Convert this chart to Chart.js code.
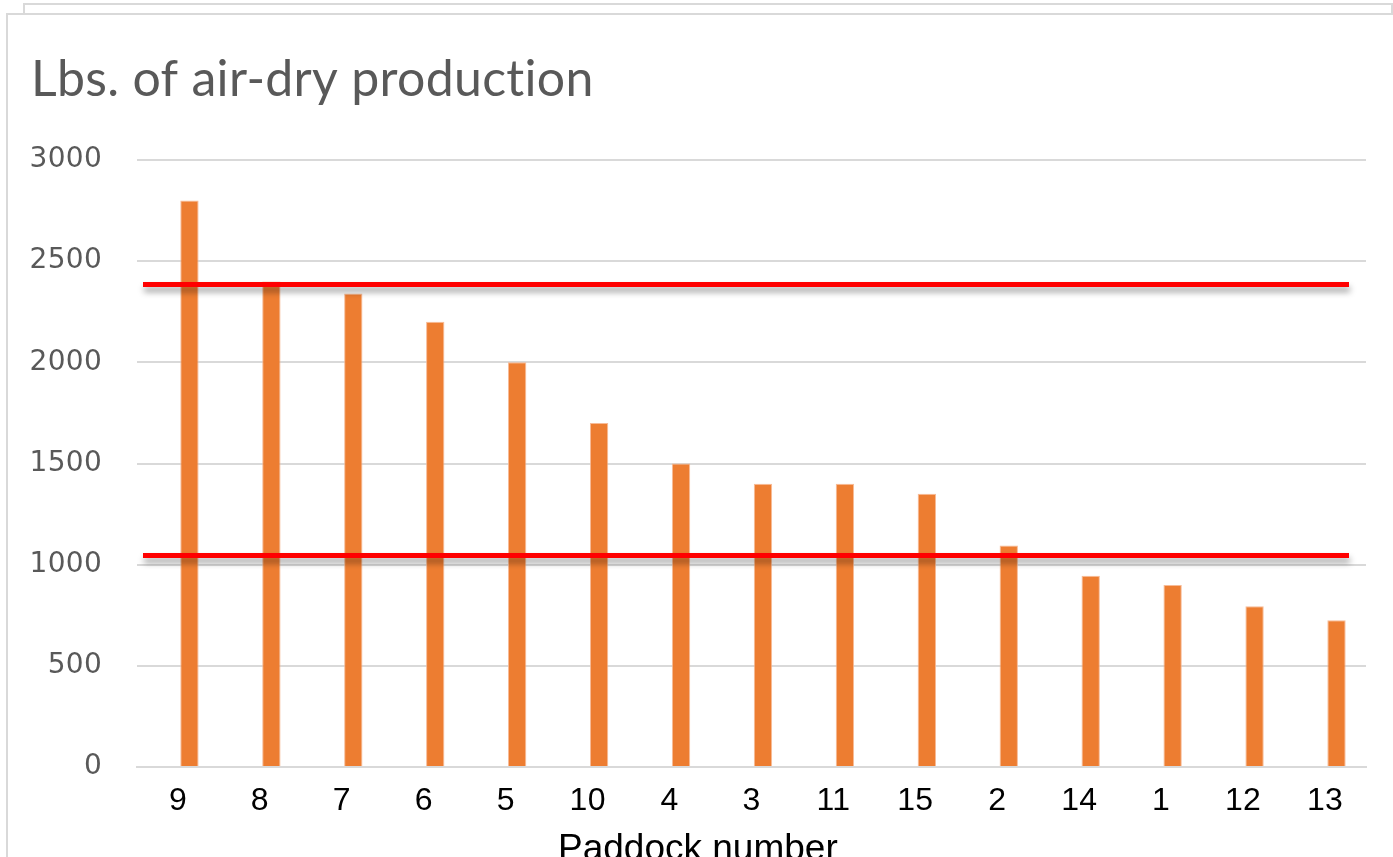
<!DOCTYPE html>
<html>
<head>
<meta charset="utf-8">
<script src="https://cdn.jsdelivr.net/npm/chart.js@4"></script>
<style>
  html, body { margin: 0; padding: 0; background: #fff; overflow: hidden; }
  body { width: 1393px; height: 857px; position: relative; }
  .frame-back { position: absolute; left: 23px; top: 3px; width: 1366px; height: 9px; border: 2px solid #d9d9d9; background: #fff; }
  .frame-front { position: absolute; left: 6px; top: 13px; width: 1420px; height: 900px; border: 2px solid #d9d9d9; background: #fff; }
  #chart { position: absolute; left: 0; top: 0; }
  .x-title { position: absolute; left: 558px; top: 826px; font-family: "Liberation Sans", Arial, sans-serif; font-size: 37px; color: #000; white-space: nowrap; line-height: 44px; }
</style>
</head>
<body>
<div class="frame-back"></div>
<div class="frame-front"></div>
<canvas id="chart" width="1393" height="857"></canvas>
<div class="x-title">Paddock number</div>
<script>
// Paddocks, sorted by production
const paddocks = ['9', '8', '7', '6', '5', '10', '4', '3', '11', '15', '2', '14', '1', '12', '13'];
// Air-dry production (lbs)
const production = [2800, 2400, 2340, 2200, 2000, 1700, 1500, 1400, 1400, 1350, 1095, 945, 900, 795, 725];
// Companion series, near zero for every paddock
const baseline = [5, 5, 5, 5, 5, 5, 5, 5, 5, 5, 5, 5, 5, 5, 5];
// Reference levels drawn across the plot
const referenceLevels = [2385, 1045];
// Y axis ticks
const yTicks = [0, 500, 1000, 1500, 2000, 2500, 3000];

// A hair of letter spacing keeps title glyphs unligated
const textSpacing = {
  id: 'textSpacing',
  beforeDraw(chart) { chart.ctx.letterSpacing = '0.3px'; },
  beforeDatasetsDraw(chart) { chart.ctx.letterSpacing = '0px'; }
};

const referenceLines = {
  id: 'referenceLines',
  afterDatasetsDraw(chart) {
    const { ctx, chartArea, scales } = chart;
    ctx.save();
    ctx.strokeStyle = '#ff0000';
    ctx.lineWidth = 5;
    ctx.lineCap = 'butt';
    ctx.shadowColor = 'rgba(0,0,0,0.38)';
    ctx.shadowBlur = 6;
    ctx.shadowOffsetY = 5;
    ctx.shadowOffsetX = 1;
    referenceLevels.forEach(v => {
      const y = scales.y.getPixelForValue(v);
      ctx.beginPath();
      ctx.moveTo(chartArea.left + 6, y);
      ctx.lineTo(chartArea.right - 17, y);
      ctx.stroke();
    });
    ctx.restore();
  }
};

new Chart(document.getElementById('chart'), {
  type: 'bar',
  data: {
    labels: paddocks,
    datasets: [
      {
        label: 'Baseline',
        data: baseline,
        backgroundColor: '#b4c7e7',
        borderWidth: 0,
        barPercentage: 0.8,
        categoryPercentage: 0.56
      },
      {
        label: 'Production',
        data: production,
        backgroundColor: '#ed7d31',
        borderColor: 'rgba(246,180,140,0.9)',
        borderWidth: 1,
        borderSkipped: 'bottom',
        barPercentage: 0.8,
        categoryPercentage: 0.56
      }
    ]
  },
  options: {
    responsive: false,
    animation: false,
    devicePixelRatio: 1,
    layout: { padding: { left: 31, right: 27, top: 0, bottom: 0 } },
    plugins: {
      legend: { display: false },
      tooltip: { enabled: false },
      title: {
        display: true,
        text: 'Lbs. of air-dry produc\u200Ction',
        align: 'start',
        color: '#595959',
        font: { family: 'Lato, "Open Sans", sans-serif', size: 50, weight: 'normal' },
        padding: { top: 50, bottom: 50 }
      }
    },
    scales: {
      x: {
        grid: { display: false, drawTicks: false },
        border: { display: true, color: '#d9d9d9', width: 2 },
        ticks: {
          color: '#000',
          padding: 15,
          font: { family: '"Liberation Sans", Arial, sans-serif', size: 32 }
        },
        afterFit(scale) { scale.height = 90; }
      },
      y: {
        min: 0,
        max: 3000,
        afterBuildTicks(scale) { scale.ticks = yTicks.map(v => ({ value: v })); },
        grid: { color: '#d9d9d9', lineWidth: 2, drawTicks: false },
        border: { display: false },
        ticks: {
          color: '#595959',
          padding: 35,
          font: { family: '"DejaVu Sans", sans-serif', size: 28 },
          callback: v => String(v)
        },
        afterFit(scale) { scale.width = 106; }
      }
    }
  },
  plugins: [textSpacing, referenceLines]
});
</script>
</body>
</html>
